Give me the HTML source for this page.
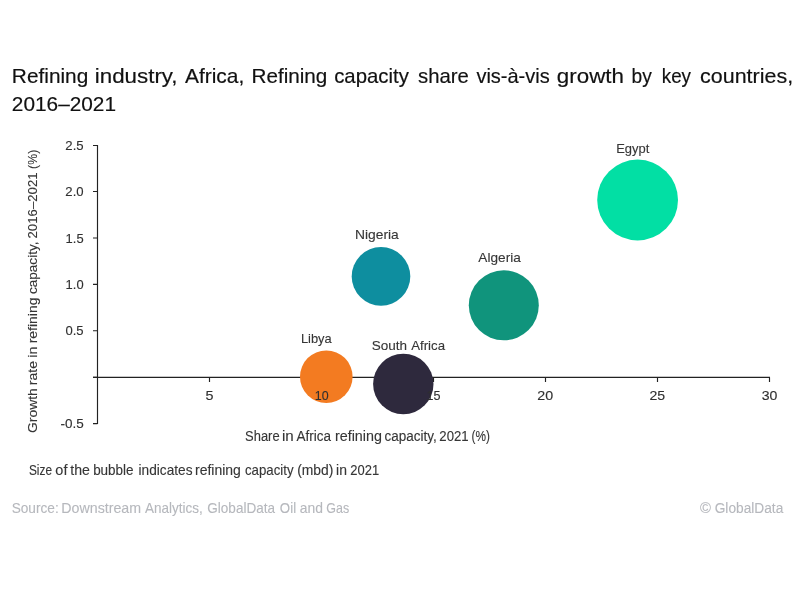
<!DOCTYPE html>
<html lang="en">
<head>
<meta charset="utf-8">
<title>Refining industry, Africa – refining capacity share vis-à-vis growth</title>
<style>
  html, body { margin: 0; padding: 0; background: #ffffff; }
  body { width: 800px; height: 600px; overflow: hidden; position: relative;
         font-family: "Liberation Sans", sans-serif; }
  svg { position: absolute; left: 0; top: 0; display: block; }
  text { font-family: "Liberation Sans", sans-serif; white-space: pre; }
  .title { fill: #111111; stroke: #111111; stroke-width: 0.18px; }
  .tick  { fill: #303030; stroke: #303030; stroke-width: 0.12px; }
  .lbl   { fill: #363636; stroke: #363636; stroke-width: 0.12px; }
  .note  { fill: #363636; stroke: #363636; stroke-width: 0.12px; }
  .src   { fill: #b6b8bd; stroke: #b6b8bd; stroke-width: 0.1px; }
  .axis  { stroke: #222222; stroke-width: 1.15; fill: none; }
</style>
</head>
<body>
<svg width="800" height="600" viewBox="0 0 800 600">
  <rect x="0" y="0" width="800" height="600" fill="#ffffff"/>

  <!-- title -->
  <text class="title" y="83.40" font-size="20.6" ><tspan x="11.89" textLength="76.35" lengthAdjust="spacingAndGlyphs">Refining</tspan> <tspan x="94.84" textLength="82.73" lengthAdjust="spacingAndGlyphs">industry,</tspan> <tspan x="184.96" textLength="59.32" lengthAdjust="spacingAndGlyphs">Africa,</tspan> <tspan x="251.50" textLength="75.83" lengthAdjust="spacingAndGlyphs">Refining</tspan> <tspan x="334.13" textLength="74.70" lengthAdjust="spacingAndGlyphs">capacity</tspan> <tspan x="418.03" textLength="50.87" lengthAdjust="spacingAndGlyphs">share</tspan> <tspan x="476.43" textLength="73.29" lengthAdjust="spacingAndGlyphs">vis-à-vis</tspan> <tspan x="556.86" textLength="67.09" lengthAdjust="spacingAndGlyphs">growth</tspan> <tspan x="631.56" textLength="20.27" lengthAdjust="spacingAndGlyphs">by</tspan> <tspan x="661.73" textLength="29.31" lengthAdjust="spacingAndGlyphs">key</tspan> <tspan x="700.09" textLength="93.04" lengthAdjust="spacingAndGlyphs">countries,</tspan></text>
  <text class="title" y="111.30" font-size="20.6" ><tspan x="11.85" textLength="104.16" lengthAdjust="spacingAndGlyphs">2016–2021</tspan></text>
  <!-- axes -->
  <path class="axis" d="M97.50 145.00 V424.10 M93.00 145.50 H97.50 M93.00 191.50 H97.50 M93.00 238.00 H97.50 M93.00 284.40 H97.50 M93.00 330.70 H97.50 M93.00 377.40 H97.50 M93.00 423.60 H97.50"/>
  <path class="axis" d="M93.00 377.40 H770.00 M209.50 377.40 V381.90 M321.50 377.40 V381.90 M433.50 377.40 V381.90 M545.50 377.40 V381.90 M657.50 377.40 V381.90 M769.50 377.40 V381.90"/>
  <!-- bubbles -->
  <circle cx="637.6" cy="200.0" r="40.4" fill="#02dfa4"/>
  <circle cx="381.0" cy="276.4" r="29.3" fill="#0e8e9f"/>
  <circle cx="503.8" cy="305.3" r="35.0" fill="#10947c"/>
  <circle cx="326.3" cy="376.7" r="26.3" fill="#f37b21"/>
  <circle cx="403.3" cy="384.0" r="30.2" fill="#2e293d"/>
  <!-- y axis tick labels -->
  <text class="tick" y="150.00" font-size="12.8" ><tspan x="65.34" textLength="18.32" lengthAdjust="spacingAndGlyphs">2.5</tspan></text>
  <text class="tick" y="196.00" font-size="12.8" ><tspan x="65.34" textLength="18.27" lengthAdjust="spacingAndGlyphs">2.0</tspan></text>
  <text class="tick" y="242.60" font-size="12.8" ><tspan x="65.61" textLength="18.03" lengthAdjust="spacingAndGlyphs">1.5</tspan></text>
  <text class="tick" y="289.00" font-size="12.8" ><tspan x="65.61" textLength="17.99" lengthAdjust="spacingAndGlyphs">1.0</tspan></text>
  <text class="tick" y="335.20" font-size="12.8" ><tspan x="65.49" textLength="18.16" lengthAdjust="spacingAndGlyphs">0.5</tspan></text>
  <text class="tick" y="428.20" font-size="12.8" ><tspan x="60.40" textLength="23.27" lengthAdjust="spacingAndGlyphs">-0.5</tspan></text>
  <!-- x axis tick labels -->
  <text class="tick" y="399.80" font-size="12.8" ><tspan x="205.63" textLength="7.98" lengthAdjust="spacingAndGlyphs">5</tspan></text>
  <text class="tick" y="399.80" font-size="12.8" ><tspan x="314.85" textLength="13.83" lengthAdjust="spacingAndGlyphs">10</tspan></text>
  <text class="tick" y="399.80" font-size="12.8" ><tspan x="426.54" textLength="13.99" lengthAdjust="spacingAndGlyphs">15</tspan></text>
  <text class="tick" y="399.80" font-size="12.8" ><tspan x="537.28" textLength="15.88" lengthAdjust="spacingAndGlyphs">20</tspan></text>
  <text class="tick" y="399.80" font-size="12.8" ><tspan x="649.49" textLength="15.70" lengthAdjust="spacingAndGlyphs">25</tspan></text>
  <text class="tick" y="399.80" font-size="12.8" ><tspan x="761.66" textLength="15.69" lengthAdjust="spacingAndGlyphs">30</tspan></text>
  <!-- bubble labels -->
  <text class="lbl" y="152.90" font-size="13.5" ><tspan x="616.14" textLength="33.16" lengthAdjust="spacingAndGlyphs">Egypt</tspan></text>
  <text class="lbl" y="238.60" font-size="13.5" ><tspan x="354.96" textLength="43.84" lengthAdjust="spacingAndGlyphs">Nigeria</tspan></text>
  <text class="lbl" y="262.10" font-size="13.5" ><tspan x="478.37" textLength="42.43" lengthAdjust="spacingAndGlyphs">Algeria</tspan></text>
  <text class="lbl" y="342.70" font-size="13.5" ><tspan x="300.94" textLength="30.76" lengthAdjust="spacingAndGlyphs">Libya</tspan></text>
  <text class="lbl" y="350.30" font-size="13.5" ><tspan x="371.79" textLength="35.33" lengthAdjust="spacingAndGlyphs">South</tspan> <tspan x="411.24" textLength="33.76" lengthAdjust="spacingAndGlyphs">Africa</tspan></text>
  <!-- axis titles -->
  <text class="lbl" y="440.60" font-size="14.0" ><tspan x="245.11" textLength="34.46" lengthAdjust="spacingAndGlyphs">Share</tspan> <tspan x="281.99" textLength="11.80" lengthAdjust="spacingAndGlyphs">in</tspan> <tspan x="296.47" textLength="34.53" lengthAdjust="spacingAndGlyphs">Africa</tspan> <tspan x="334.95" textLength="46.97" lengthAdjust="spacingAndGlyphs">refining</tspan> <tspan x="384.44" textLength="52.25" lengthAdjust="spacingAndGlyphs">capacity,</tspan> <tspan x="439.34" textLength="29.31" lengthAdjust="spacingAndGlyphs">2021</tspan> <tspan x="471.57" textLength="18.36" lengthAdjust="spacingAndGlyphs">(%)</tspan></text>
  <text class="lbl" y="0.00" font-size="13.6" transform="translate(37.00 432.40) rotate(-90)"><tspan x="-0.70" textLength="44.91" lengthAdjust="spacingAndGlyphs">Growth</tspan> <tspan x="47.27" textLength="24.16" lengthAdjust="spacingAndGlyphs">rate</tspan> <tspan x="74.73" textLength="11.30" lengthAdjust="spacingAndGlyphs">in</tspan> <tspan x="89.06" textLength="45.85" lengthAdjust="spacingAndGlyphs">refining</tspan> <tspan x="138.34" textLength="52.56" lengthAdjust="spacingAndGlyphs">capacity,</tspan> <tspan x="193.93" textLength="66.07" lengthAdjust="spacingAndGlyphs">2016–2021</tspan> <tspan x="263.49" textLength="19.18" lengthAdjust="spacingAndGlyphs">(%)</tspan></text>
  <!-- footnote -->
  <text class="note" y="474.80" font-size="13.9" ><tspan x="28.96" textLength="23.07" lengthAdjust="spacingAndGlyphs">Size</tspan> <tspan x="55.39" textLength="12.09" lengthAdjust="spacingAndGlyphs">of</tspan> <tspan x="70.29" textLength="19.64" lengthAdjust="spacingAndGlyphs">the</tspan> <tspan x="93.13" textLength="40.47" lengthAdjust="spacingAndGlyphs">bubble</tspan> <tspan x="138.59" textLength="53.91" lengthAdjust="spacingAndGlyphs">indicates</tspan> <tspan x="195.07" textLength="45.83" lengthAdjust="spacingAndGlyphs">refining</tspan> <tspan x="244.94" textLength="48.59" lengthAdjust="spacingAndGlyphs">capacity</tspan> <tspan x="297.14" textLength="36.22" lengthAdjust="spacingAndGlyphs">(mbd)</tspan> <tspan x="336.07" textLength="10.84" lengthAdjust="spacingAndGlyphs">in</tspan> <tspan x="350.35" textLength="28.78" lengthAdjust="spacingAndGlyphs">2021</tspan></text>
  <!-- source -->
  <text class="src" y="512.50" font-size="14.4" ><tspan x="11.68" textLength="47.07" lengthAdjust="spacingAndGlyphs">Source:</tspan> <tspan x="61.33" textLength="79.80" lengthAdjust="spacingAndGlyphs">Downstream</tspan> <tspan x="144.97" textLength="57.74" lengthAdjust="spacingAndGlyphs">Analytics,</tspan> <tspan x="207.32" textLength="67.68" lengthAdjust="spacingAndGlyphs">GlobalData</tspan> <tspan x="279.87" textLength="16.22" lengthAdjust="spacingAndGlyphs">Oil</tspan> <tspan x="299.71" textLength="23.19" lengthAdjust="spacingAndGlyphs">and</tspan> <tspan x="326.37" textLength="22.88" lengthAdjust="spacingAndGlyphs">Gas</tspan></text>
  <text class="src" y="512.60" font-size="14.0" ><tspan x="700.07" textLength="10.96" lengthAdjust="spacingAndGlyphs">©</tspan> <tspan x="714.71" textLength="68.59" lengthAdjust="spacingAndGlyphs">GlobalData</tspan></text>
</svg>
</body>
</html>
